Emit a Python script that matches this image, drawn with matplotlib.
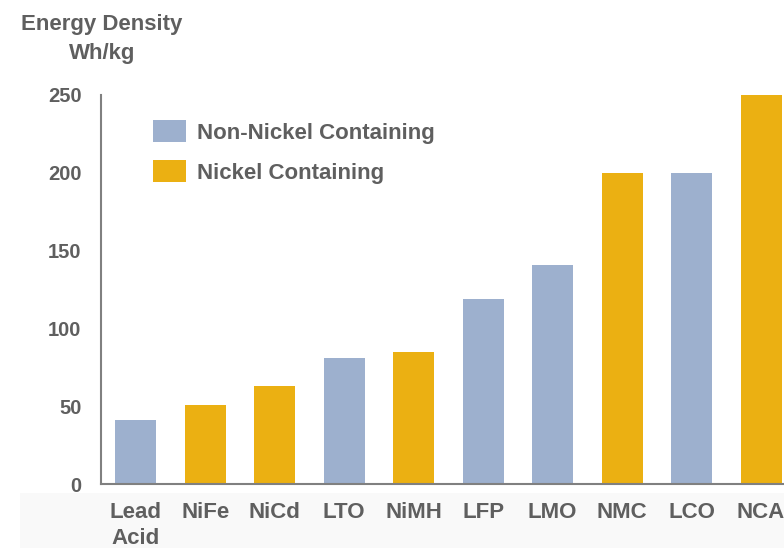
import matplotlib.pyplot as plt
from matplotlib.patches import Patch, Rectangle

plt.rcParams['font.family'] = ['Liberation Sans', 'DejaVu Sans']
plt.rcParams['font.weight'] = 'bold'

chemistries = ['Lead\nAcid', 'NiFe', 'NiCd', 'LTO', 'NiMH', 'LFP', 'LMO', 'NMC', 'LCO', 'NCA']
energy_density = [41, 51, 63, 81, 85, 119, 141, 200, 200, 250]
has_nickel = [False, True, True, False, True, False, False, True, False, True]
yticks = [0, 50, 100, 150, 200, 250]

blue = '#9db0ce'
gold = '#ebb012'
text_gray = '#5f5f5f'
axis_gray = '#808080'

fig = plt.figure(figsize=(7.84, 5.48), dpi=100)
ax = fig.add_axes([101 / 784, 64 / 548, 1 - 101 / 784, 389 / 548])

# faint band behind the category labels
fig.patches.append(Rectangle((20 / 784, 0), 1, 55 / 548, transform=fig.transFigure,
                             facecolor='#f9f9f9', edgecolor='none', zorder=-1))

colors = [gold if n else blue for n in has_nickel]
ax.bar(range(len(chemistries)), energy_density, width=0.59, color=colors, zorder=2)

ax.set_xlim(-0.5, 9.33)
ax.set_ylim(0, 250)
ax.set_yticks(yticks)
ax.set_yticks([0, 250], minor=True)
ax.set_xticks(range(len(chemistries)))
ax.set_xticklabels(chemistries, fontsize=16, color=text_gray, linespacing=1.3)

ax.tick_params(axis='y', which='major', length=0, pad=14, labelsize=14.5, labelcolor=text_gray)
ax.tick_params(axis='y', which='minor', length=6, width=1.5, color=axis_gray)
ax.tick_params(axis='x', length=0, pad=13)

for side in ['top', 'right']:
    ax.spines[side].set_visible(False)
for side in ['left', 'bottom']:
    ax.spines[side].set_color(axis_gray)
    ax.spines[side].set_linewidth(1.5)
ax.patch.set_alpha(0)

fig.text(102 / 784, 1 - 39 / 548, 'Energy Density\nWh/kg', ha='center', va='center',
         fontsize=16, color=text_gray, linespacing=1.55)

handles = [Patch(facecolor=blue, edgecolor='none'), Patch(facecolor=gold, edgecolor='none')]
leg = fig.legend(handles, ['Non-Nickel Containing', 'Nickel Containing'],
                 loc='upper left', bbox_to_anchor=(153 / 784, 1 - 120 / 548),
                 frameon=False, fontsize=16, handlelength=1.5, handleheight=1.15,
                 handletextpad=0.5, labelspacing=0.75, borderpad=0, borderaxespad=0)
for t in leg.get_texts():
    t.set_color(text_gray)

fig.savefig('out.png', dpi=100)
